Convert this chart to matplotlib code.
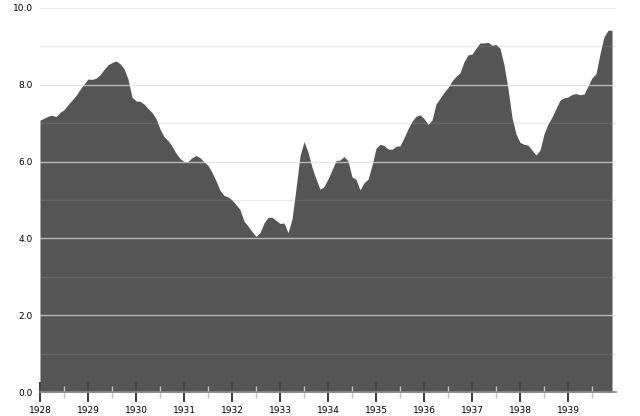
import numpy as np
import matplotlib
matplotlib.use("Agg")
import matplotlib.pyplot as plt

# monthly values, Jan..Dec
v1928 = [7.08, 7.13, 7.18, 7.21, 7.17, 7.28, 7.35, 7.48, 7.60, 7.72, 7.88, 8.02]
v1929 = [8.15, 8.14, 8.17, 8.26, 8.40, 8.52, 8.58, 8.62, 8.55, 8.42, 8.15, 7.68]
v1930 = [7.58, 7.57, 7.50, 7.38, 7.28, 7.12, 6.85, 6.65, 6.55, 6.40, 6.22, 6.08]
v1931 = [6.00, 6.00, 6.10, 6.16, 6.10, 6.00, 5.90, 5.72, 5.50, 5.25, 5.12, 5.08]
v1932 = [5.00, 4.88, 4.75, 4.45, 4.32, 4.18, 4.05, 4.15, 4.40, 4.55, 4.55, 4.47]
v1933 = [4.39, 4.40, 4.15, 4.50, 5.30, 6.15, 6.52, 6.25, 5.85, 5.55, 5.28, 5.35]
v1934 = [5.55, 5.78, 6.03, 6.04, 6.13, 6.02, 5.60, 5.54, 5.26, 5.45, 5.54, 5.90]
v1935 = [6.35, 6.45, 6.42, 6.33, 6.32, 6.40, 6.41, 6.62, 6.85, 7.05, 7.18, 7.22]
v1936 = [7.12, 6.97, 7.08, 7.50, 7.65, 7.80, 7.93, 8.10, 8.22, 8.31, 8.60, 8.78]
v1937 = [8.80, 8.95, 9.09, 9.09, 9.11, 9.03, 9.05, 8.95, 8.52, 7.90, 7.15, 6.72]
v1938 = [6.50, 6.45, 6.43, 6.30, 6.17, 6.30, 6.72, 6.98, 7.16, 7.38, 7.60, 7.66]
v1939 = [7.68, 7.75, 7.77, 7.74, 7.76, 7.97, 8.18, 8.29, 8.81, 9.25, 9.42, 9.42]

years = list(range(1928, 1940))
values = np.array(v1928 + v1929 + v1930 + v1931 + v1932 + v1933 +
                  v1934 + v1935 + v1936 + v1937 + v1938 + v1939)
t = 1928 + np.arange(len(values)) / 12.0

fig = plt.figure(figsize=(6.4, 4.16), dpi=100)
ax = fig.add_axes([40 / 640, 24 / 416, 576 / 640, 384 / 416])

ax.fill_between(t, values, 0, color="#555555", linewidth=0, zorder=1)

# gridlines: light lines behind the area, and lines on top of it
for y in [1, 3, 5, 7, 9]:
    ax.axhline(y, color="#e8e8e8", linewidth=1, zorder=0)
    ax.axhline(y, color="#ffffff", alpha=0.1, linewidth=1, zorder=2)
for y in [2, 4, 6, 8, 10]:
    ax.axhline(y, color="#e0e0e0", alpha=0.7, linewidth=1, zorder=2)

ax.set_xlim(1928, 1940)
ax.set_ylim(0, 10)

for s in ["top", "right", "left"]:
    ax.spines[s].set_visible(False)
ax.spines["bottom"].set_color("#888888")
ax.spines["bottom"].set_linewidth(1.2)
ax.spines["bottom"].set_zorder(3)

ax.set_xticks(years)
ax.set_xticklabels([str(y) for y in years])
ax.set_xticks([y + 0.5 for y in years], minor=True)
ax.tick_params(axis="x", which="major", direction="inout", length=14, width=1.5,
               color="#444444", labelsize=6.5, pad=3)
ax.tick_params(axis="x", which="minor", direction="inout", length=8, width=1,
               color="#c0c0c0")

ax.set_yticks([0, 2, 4, 6, 8, 10])
ax.set_yticklabels(["0.0", "2.0", "4.0", "6.0", "8.0", "10.0"])
ax.tick_params(axis="y", length=0, labelsize=6.5, pad=5)

fig.savefig("out.png", dpi=100)
